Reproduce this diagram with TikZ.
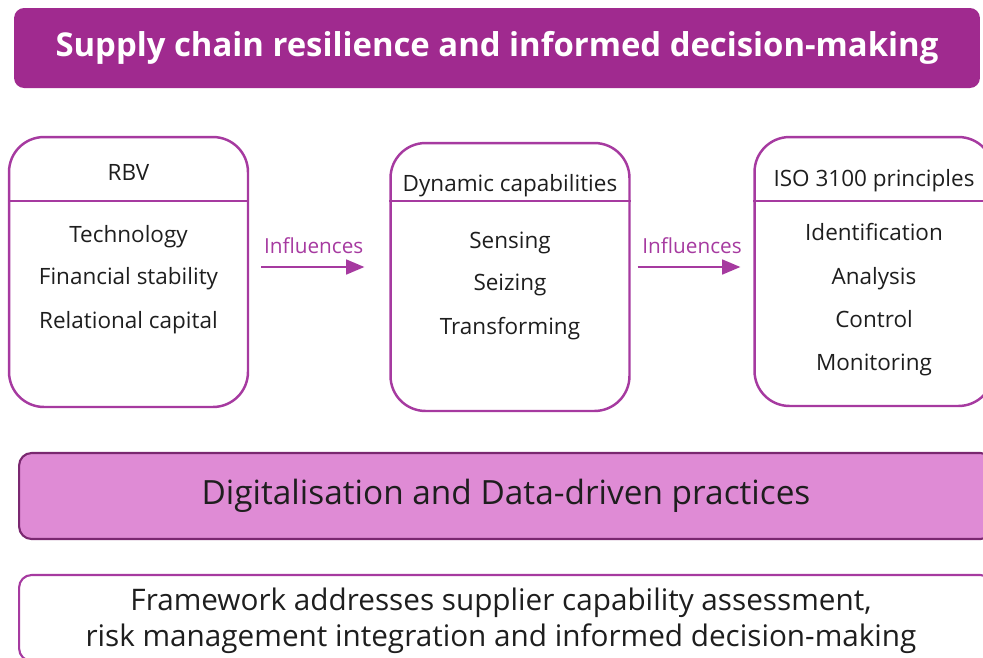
\documentclass[tikz,border=0pt]{standalone}
\usepackage{fontspec}
\setmainfont{Open Sans}
\usetikzlibrary{arrows}
\definecolor{plum}{RGB}{160,42,143}
\definecolor{plumline}{RGB}{166,58,160}
\definecolor{plumdark}{RGB}{122,40,112}
\definecolor{orchid}{RGB}{223,139,213}
\definecolor{ink}{RGB}{30,30,30}

\begin{document}
\begin{tikzpicture}[x=0.02cm,y=-0.02cm,
panel/.style={draw=plumline,line width=1.4pt,rounded corners=0.7cm,minimum width=4.78cm},
item/.style={text=ink,font=\fontsize{12.8}{14}\selectfont,text height=1.6ex,text depth=.45ex,yshift=-0.06cm},
flow/.style={-triangle 45,draw=plumline,line width=1.4pt},
tag/.style={text=plumline,font=\fontsize{11.8}{13}\selectfont}]
\useasboundingbox (0,0) rectangle (983,657);
\draw
(497,48) node[fill=plum,rounded corners=0.2cm,minimum width=19.32cm,minimum height=1.6cm,text=white,font=\bfseries\fontsize{18.7}{22}\selectfont](goal){Supply chain resilience and informed decision-making}
(128.5,272) node[panel,minimum height=5.4cm](rbv){}
(510,277) node[panel,minimum height=5.36cm](dyn){}
(874,271.5) node[panel,minimum height=5.38cm](iso){}
(506,496) node[draw=plumdark,fill=orchid,line width=1.2pt,rounded corners=0.25cm,minimum width=19.48cm,minimum height=1.72cm,text=ink,font=\fontsize{19}{21}\selectfont](digital){Digitalisation and Data-driven practices}
(506,618) node[draw=plumline,line width=1.2pt,rounded corners=0.25cm,minimum width=19.48cm,minimum height=1.72cm](summary){}
;
\coordinate (split) at (0,201);
\coordinate (row) at (0,267);
\foreach \b in {rbv,dyn,iso}{
\draw[plumline,line width=1.4pt](\b.west|-split)--(\b.east|-split);
}
\node[item](rbvhead) at (128.5,172){RBV};
\node[item](dynhead) at (510,183){Dynamic capabilities};
\node[item](isohead) at (874,178){ISO 3100 principles};
\foreach \t/\y [count=\i] in {Technology/234,Financial stability/276,Relational capital/320}{
\node[item](rbv\i) at (128.5,\y){\t};
}
\foreach \t/\y [count=\i] in {Sensing/240,Seizing/282,Transforming/326}{
\node[item](dyn\i) at (510,\y){\t};
}
\foreach \t/\y [count=\i] in {Identification/232,Analysis/276,Control/319,Monitoring/362}{
\node[item](iso\i) at (874,\y){\t};
}
\node[align=center,text=ink,font=\fontsize{16.9}{20.5}\selectfont](summarytext) at (501,621){Framework addresses supplier capability assessment,\\risk management integration and informed decision-making};
\foreach \x/\y/\a/\b/\p in {rbv/dyn/0.24cm/0.5cm/0.46, dyn/iso/0.14cm/0.26cm/0.5}{
\draw[flow,shorten <=\a,shorten >=\b](\x.east|-row)--node[tag,pos=\p,above=0.12cm]{Influences}(\y.west|-row);
}
\end{tikzpicture}
\end{document}
